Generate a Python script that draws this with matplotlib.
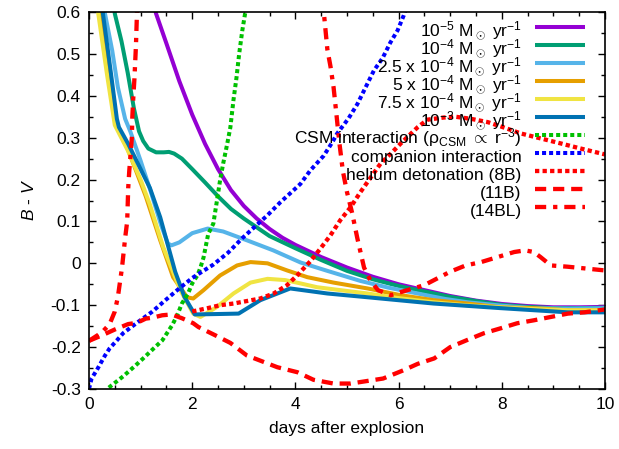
import numpy as np
import matplotlib
matplotlib.use("Agg")
import matplotlib.pyplot as plt
from matplotlib.ticker import MultipleLocator, FuncFormatter

plt.rcParams['font.family'] = ['Liberation Sans', 'DejaVu Sans']
plt.rcParams['mathtext.fontset'] = 'custom'
plt.rcParams['mathtext.rm'] = 'Liberation Sans'
plt.rcParams['mathtext.it'] = 'Liberation Sans:italic'
plt.rcParams['mathtext.bf'] = 'Liberation Sans:bold'

# ---------------- data ----------------
labels = [
    r"10$^{-5}$ M$_\odot$ yr$^{-1}$",
    r"10$^{-4}$ M$_\odot$ yr$^{-1}$",
    r"2.5 x 10$^{-4}$ M$_\odot$ yr$^{-1}$",
    r"5 x 10$^{-4}$ M$_\odot$ yr$^{-1}$",
    r"7.5 x 10$^{-4}$ M$_\odot$ yr$^{-1}$",
    r"10$^{-3}$ M$_\odot$ yr$^{-1}$",
    r"CSM interaction (ρ$_{\mathrm{CSM}}$ $\propto$ r$^{-3}$)",
    "companion interaction",
    "helium detonation (8B)",
    "(11B)",
    "(14BL)",
]

m1e5_x = [1.25, 1.3, 1.5, 1.75, 2.0, 2.25, 2.5, 2.75, 3.0, 3.25, 3.5, 3.75, 4.0, 4.5, 5.0, 5.5, 6.0, 6.5, 7.0, 7.5, 8.0, 8.5, 9.0, 9.5, 10.0]
m1e5_y = [0.62, 0.596, 0.525, 0.435, 0.355, 0.285, 0.225, 0.175, 0.137, 0.107, 0.082, 0.061, 0.044, 0.015, -0.01, -0.032, -0.05, -0.064, -0.078, -0.089, -0.097, -0.102, -0.105, -0.105, -0.104]

m1e4_x = [0.48, 0.5, 0.63, 0.75, 0.87, 0.97, 1.05, 1.15, 1.3, 1.45, 1.55, 1.65, 1.8, 2.0, 2.25, 2.5, 2.75, 3.0, 3.5, 4.0, 4.5, 5.0, 5.5, 6.0, 6.5, 7.0, 7.5, 8.0, 8.5, 9.0, 9.5, 10.0]
m1e4_y = [0.62, 0.596, 0.53, 0.455, 0.37, 0.315, 0.292, 0.274, 0.265, 0.265, 0.266, 0.262, 0.25, 0.225, 0.193, 0.16, 0.13, 0.107, 0.065, 0.036, 0.008, -0.018, -0.038, -0.054, -0.067, -0.08, -0.09, -0.099, -0.104, -0.107, -0.107, -0.106]

m25e4_x = [0.29, 0.31, 0.45, 0.56, 0.7, 0.8, 1.0, 1.2, 1.4, 1.53, 1.6, 1.75, 2.0, 2.3, 2.6, 3.06, 3.57, 4.1, 4.62, 5.26, 5.8, 6.37, 6.9, 7.34, 8.0, 8.62, 9.3, 10.0]
m25e4_y = [0.62, 0.596, 0.508, 0.42, 0.345, 0.315, 0.245, 0.17, 0.09, 0.047, 0.043, 0.05, 0.072, 0.083, 0.076, 0.055, 0.031, 0.002, -0.018, -0.042, -0.058, -0.072, -0.085, -0.093, -0.101, -0.107, -0.108, -0.107]

m5e4_x = [0.19, 0.21, 0.35, 0.5, 0.56, 0.76, 1.1, 1.38, 1.63, 1.9, 2.02, 2.22, 2.54, 2.87, 3.13, 3.46, 3.84, 4.23, 4.74, 5.4, 6.04, 6.68, 7.34, 7.98, 8.62, 9.28, 10.0]
m5e4_y = [0.62, 0.596, 0.48, 0.35, 0.32, 0.27, 0.16, 0.055, -0.033, -0.081, -0.084, -0.064, -0.029, -0.005, 0.003, 0.0, -0.017, -0.033, -0.046, -0.06, -0.076, -0.088, -0.096, -0.105, -0.107, -0.112, -0.112]

m75e4_x = [0.16, 0.18, 0.35, 0.5, 0.75, 1.0, 1.18, 1.44, 1.77, 2.02, 2.16, 2.48, 2.8, 3.13, 3.46, 3.8, 4.1, 4.42, 4.87, 5.4, 6.0, 6.68, 7.3, 7.98, 8.6, 9.28, 10.0]
m75e4_y = [0.62, 0.596, 0.45, 0.33, 0.27, 0.2, 0.14, 0.038, -0.064, -0.12, -0.128, -0.104, -0.072, -0.046, -0.037, -0.04, -0.048, -0.057, -0.064, -0.072, -0.083, -0.093, -0.10, -0.105, -0.109, -0.112, -0.112]

m1e3_x = [0.25, 0.27, 0.41, 0.54, 0.58, 0.76, 1.0, 1.18, 1.38, 1.67, 1.85, 2.05, 2.5, 2.9, 3.32, 3.9, 4.62, 5.4, 6.68, 7.98, 9.28, 10.0]
m1e3_y = [0.62, 0.596, 0.468, 0.345, 0.325, 0.285, 0.225, 0.18, 0.11, -0.02, -0.08, -0.122, -0.121, -0.12, -0.088, -0.06, -0.072, -0.081, -0.096, -0.107, -0.117, -0.117]

csm_x = [0.3, 0.37, 0.66, 0.9, 1.05, 1.28, 1.42, 1.61, 1.71, 1.8, 1.92, 2.0, 2.1, 2.16, 2.22, 2.31, 2.41, 2.48, 2.54, 2.6, 2.68, 2.74, 2.8, 2.86, 2.91, 2.97, 3.03, 3.06]
csm_y = [-0.31, -0.298, -0.27, -0.244, -0.227, -0.2, -0.184, -0.148, -0.124, -0.096, -0.072, -0.048, -0.029, -0.01, 0.014, 0.07, 0.095, 0.15, 0.198, 0.238, 0.286, 0.325, 0.39, 0.445, 0.50, 0.555, 0.60, 0.62]

comp_x = [0.0, 0.05, 0.15, 0.31, 0.4, 0.54, 0.66, 0.95, 1.22, 1.48, 1.7, 2.0, 2.19, 2.41, 2.7, 2.97, 3.46, 3.71, 3.96, 4.1, 4.29, 4.55, 4.72, 4.81, 5.03, 5.2, 5.36, 5.52, 5.69, 5.84, 5.98, 6.1, 6.15]
comp_y = [-0.3, -0.275, -0.255, -0.22, -0.203, -0.184, -0.167, -0.14, -0.116, -0.088, -0.065, -0.035, -0.02, -0.003, 0.026, 0.06, 0.115, 0.146, 0.174, 0.19, 0.222, 0.257, 0.29, 0.31, 0.346, 0.38, 0.42, 0.46, 0.49, 0.527, 0.556, 0.592, 0.61]

he8b_x = [2.0, 2.3, 2.54, 2.8, 3.06, 3.32, 3.58, 3.84, 4.04, 4.29, 4.49, 4.68, 4.87, 5.07, 5.26, 5.46, 5.65, 5.85, 6.04, 6.37, 6.56, 6.87, 7.1, 7.4, 7.73, 8.0, 8.37, 8.76, 9.15, 9.53, 10.0]
he8b_y = [-0.115, -0.107, -0.1, -0.096, -0.09, -0.084, -0.072, -0.052, -0.028, 0.005, 0.036, 0.067, 0.103, 0.134, 0.17, 0.205, 0.238, 0.262, 0.286, 0.325, 0.343, 0.348, 0.35, 0.345, 0.337, 0.326, 0.31, 0.298, 0.286, 0.274, 0.26]

he11b_x = [0.0, 0.25, 0.5, 0.76, 0.93, 1.1, 1.22, 1.42, 1.6, 1.8, 2.02, 2.12, 2.45, 2.74, 3.06, 3.65, 4.04, 4.35, 4.74, 5.07, 5.7, 6.1, 6.37, 6.69, 7.0, 7.33, 7.65, 7.98, 8.3, 8.62, 8.95, 9.28, 9.6, 10.0]
he11b_y = [-0.185, -0.172, -0.158, -0.145, -0.142, -0.132, -0.13, -0.124, -0.122, -0.131, -0.143, -0.152, -0.172, -0.19, -0.22, -0.248, -0.26, -0.278, -0.287, -0.287, -0.275, -0.255, -0.24, -0.227, -0.2, -0.183, -0.167, -0.155, -0.143, -0.136, -0.128, -0.12, -0.117, -0.11]

he14bl_x = [0.0, 0.25, 0.4, 0.5, 0.56, 0.6, 0.64, 0.7, 0.74, 0.76, 0.78, 0.8, 0.83, 0.84, 0.86, 0.88, 0.91, 0.93, 0.95,
            np.nan,
            4.5, 4.55, 4.62, 4.68, 4.74, 4.8, 4.85, 4.92, 5.0, 5.1, 5.2, 5.33, 5.45, 5.6, 5.85, 6.17, 6.5, 7.0, 7.3, 7.6, 7.92, 8.24, 8.45, 8.62, 8.75, 8.95, 9.27, 9.6, 10.0]
he14bl_y = [-0.185, -0.165, -0.145, -0.115, -0.08, -0.045, -0.01, 0.06, 0.1, 0.18, 0.22, 0.25, 0.3, 0.35, 0.4, 0.44, 0.52, 0.6, 0.68,
            np.nan,
            0.68, 0.6, 0.51, 0.47, 0.42, 0.35, 0.29, 0.22, 0.17, 0.12, 0.06, -0.01, -0.04, -0.064, -0.076, -0.064, -0.052, -0.02, -0.005, 0.003, 0.015, 0.027, 0.031, 0.027, 0.015, -0.005, -0.008, -0.012, -0.017]

xs = [m1e5_x, m1e4_x, m25e4_x, m5e4_x, m75e4_x, m1e3_x, csm_x, comp_x, he8b_x, he11b_x, he14bl_x]
ys = [m1e5_y, m1e4_y, m25e4_y, m5e4_y, m75e4_y, m1e3_y, csm_y, comp_y, he8b_y, he11b_y, he14bl_y]

# ---------------- styles ----------------
colors = ['#9400d3', '#009e73', '#56b4e9', '#e69f00', '#f0e442', '#0072b2',
          '#00c000', '#0000ff', '#ff0000', '#ff0000', '#ff0000']
dot = (0, (1.0, 0.75))
styles = ['-', '-', '-', '-', '-', '-', dot, dot, dot, (0, (2.6, 1.6)), (0, (2.6, 1.6, 1.0, 1.6))]
widths = [2.9] * 6 + [2.9, 2.9, 3.1, 3.1, 3.1]

fig = plt.figure(figsize=(6.19, 4.49), dpi=100)
ax = fig.add_axes([89 / 619, 1 - 389 / 449, (605 - 89) / 619, (389 - 12) / 449])

for x, y, c, ls, lw, lab in zip(xs, ys, colors, styles, widths, labels):
    ax.plot(x, y, color=c, linestyle=ls, linewidth=lw, label=lab,
            solid_capstyle='butt', dash_capstyle='butt')

ax.set_xlim(0, 10)
ax.set_ylim(-0.3, 0.6)
ax.xaxis.set_major_locator(MultipleLocator(2))
ax.xaxis.set_minor_locator(MultipleLocator(0.5))
ax.yaxis.set_major_locator(MultipleLocator(0.1))
ax.yaxis.set_minor_locator(MultipleLocator(0.05))
ax.yaxis.set_major_formatter(FuncFormatter(lambda v, p: "0" if abs(v) < 1e-9 else ("%g" % round(v, 2))))
ax.tick_params(which='both', direction='in', top=True, right=True, labelsize=12.5, width=1.0)
ax.tick_params(which='major', length=5, pad=6)
ax.tick_params(which='minor', length=3)
for s in ax.spines.values():
    s.set_linewidth(1.2)

ax.set_xlabel("days after explosion", fontsize=12.5, labelpad=6)
ax.set_ylabel(r"$B$ - $V$", fontsize=12.5, labelpad=10)

fs = 12.5
hh = 1.8
row_px = 18.0
fs_px = fs * 100 / 72
box_px = fs_px * (0.65 * hh + 0.245)
leg = ax.legend(loc='upper right', bbox_to_anchor=(585 / 619, 1 - 18 / 449), bbox_transform=fig.transFigure,
                frameon=False, markerfirst=False, fontsize=fs, handlelength=2.9, handleheight=hh,
                handletextpad=0.75, labelspacing=(row_px - box_px) / fs_px, borderpad=0, borderaxespad=0)

fig.savefig("out.png", dpi=100)
